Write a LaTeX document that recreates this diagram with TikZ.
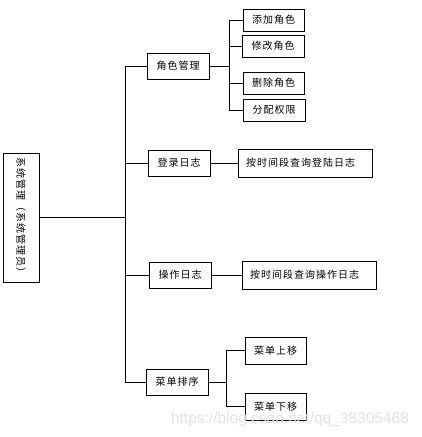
\documentclass[tikz,border=0pt]{standalone}
\usepackage{fontspec}
\setmainfont{Noto Sans CJK SC}
\newfontfamily\wmfont{Liberation Sans}
\usepackage{graphicx}
\usepackage{tikz}

\begin{document}
\begin{tikzpicture}[x=1pt,y=-1pt,line width=0.9pt,
    box/.style={draw,rectangle,inner sep=0pt,minimum width=62pt,minimum height=26pt,
      font=\fontsize{10}{12}\selectfont\addfontfeature{LetterSpace=10}},
    wide/.style={box,minimum height=28pt,text width=118pt,inner xsep=8pt,align=left}]
        \useasboundingbox (0,0) rectangle (421,437);
        \node at (21,217.5) [box,minimum width=36pt,minimum height=129pt] (root) {\rotatebox{-90}{系统管理（系统管理员）}};
        \node at (178,66) [box] (jsgl) {角色管理};
        \node at (273.5,20) [box,minimum width=61pt,minimum height=22pt] (tj) {添加角色};
        \node at (273,46) [box,minimum height=22pt] (xg) {修改角色};
        \node at (273.5,83) [box,minimum width=61pt,minimum height=22pt] (sc) {删除角色};
        \node at (274,110) [box,minimum height=22pt] (fp) {分配权限};
        \node at (179,163) [box] (dlrz) {登录日志};
        \node at (305,163) [wide] (dlcx) {按时间段查询登陆日志};
        \node at (180,275) [box] (czrz) {操作日志};
        \node at (309,275) [wide] (czcx) {按时间段查询操作日志};
        \node at (177,382) [box] (cdpx) {菜单排序};
        \node at (275.5,350.5) [box,minimum width=61pt,minimum height=27pt] (sy) {菜单上移};
        \node at (275.5,406.5) [box,minimum width=61pt,minimum height=27pt] (xy) {菜单下移};
        \node at (290,419) [text=gray!22,font=\wmfont\fontsize{15.5}{17}\selectfont] (wm) {https://blog.csdn.net/qq\_38305468};
        % junctions
        \coordinate (t) at (125,217.5);
        \coordinate (s1) at (229,66);
        \coordinate (s4) at (226,382);
        \draw (root.east) -- (t) (t) |- (jsgl.west) (t) |- (dlrz.west) (t) |- (czrz.west) (t) |- (cdpx.west);
        \draw (jsgl.east) -- (s1) (s1) |- (tj.west) (s1) |- (xg.west) (s1) |- (sc.west) (s1) |- (fp.west);
        \draw (dlrz.east) -- (dlcx.west) (czrz.east) -- (czcx.west);
        \draw (cdpx.east) -- (s4) (s4) |- (sy.west) (s4) |- (xy.west);
    \end{tikzpicture}
\end{document}
